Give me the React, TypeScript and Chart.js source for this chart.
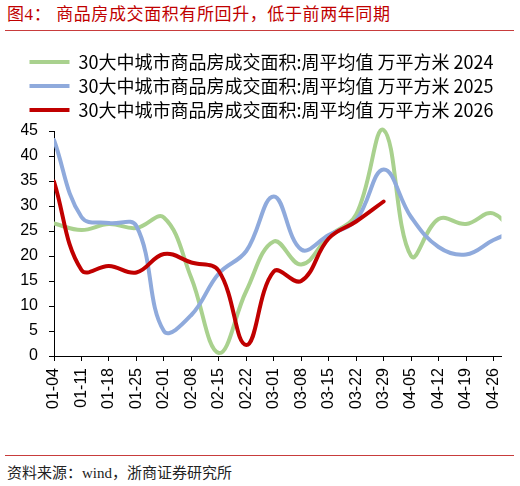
import React, { useEffect, useRef } from "react";
import { Chart, registerables } from "chart.js";

Chart.register(...registerables);

const weekLabels = [
  "01-04", "01-11", "01-18", "01-25", "02-01", "02-08", "02-15", "02-22",
  "03-01", "03-08", "03-15", "03-22", "03-29", "04-05", "04-12", "04-19", "04-26",
];

const yTicks = [0, 5, 10, 15, 20, 25, 30, 35, 40, 45];

const seriesNames = [
  "30大中城市商品房成交面积:周平均值 万平方米 2024",
  "30大中城市商品房成交面积:周平均值 万平方米 2025",
  "30大中城市商品房成交面积:周平均值 万平方米 2026",
];

const values2024 = [26.5, 25.2, 26.4, 25.6, 27.7, 15.6, 0.6, 13.0, 22.9, 18.3, 23.9, 28.3, 45.2, 20.0, 27.4, 26.4, 28.5, 22.0];
const values2025 = [43.2, 27.8, 26.6, 26.0, 5.0, 8.2, 16.5, 21.0, 31.9, 21.3, 24.2, 27.2, 37.3, 27.8, 21.8, 20.3, 23.2, 25.5];
const values2026 = [34.9, 17.2, 18.0, 16.7, 20.4, 18.7, 17.0, 2.2, 16.9, 15.0, 23.5, 26.9, 30.9];

const colors = ["#a9d18e", "#8faadc", "#c00000"];

const toPoints = (arr: number[]) => arr.map((v, i) => ({ x: i, y: v }));

const legendSpacer = {
  id: "legendSpacer",
  beforeLayout(chart: any) {
    const lg = chart.legend;
    if (lg && !lg.__patched) {
      const orig = lg.fit.bind(lg);
      lg.fit = function () {
        orig();
        this.height += 2;
      };
      lg.__patched = true;
    }
  },
};

export default function App() {
  const canvasRef = useRef<HTMLCanvasElement | null>(null);

  useEffect(() => {
    if (!canvasRef.current) return;
    const mk = (idx: number, vals: number[]) => ({
      label: seriesNames[idx],
      data: toPoints(vals),
      borderColor: colors[idx],
      backgroundColor: colors[idx],
      borderWidth: 4,
      pointRadius: 0,
      tension: 0.4,
      borderCapStyle: "round" as const,
      borderJoinStyle: "round" as const,
      clip: { left: 0, right: 0, top: false, bottom: false } as any,
    });
    const chart = new Chart(canvasRef.current, {
      type: "line",
      data: {
        datasets: [mk(2, values2026), mk(1, values2025), mk(0, values2024)],
      },
      plugins: [legendSpacer],
      options: {
        animation: false,
        responsive: false,
        devicePixelRatio: 1,
        layout: { padding: { top: 11, left: 21, right: 18, bottom: 0 } },
        plugins: {
          tooltip: { enabled: false },
          legend: {
            position: "top",
            reverse: true,
            labels: {
              font: { size: 18, family: "'Noto Sans CJK SC', sans-serif" },
              color: "#000",
              boxWidth: 40,
              boxHeight: 4,
              padding: 6,
              generateLabels: (c: any) =>
                (Chart.defaults.plugins.legend.labels as any)
                  .generateLabels(c)
                  .map((l: any) => ({ ...l, lineWidth: 0, fillStyle: l.strokeStyle })),
            },
          },
        },
        scales: {
          x: {
            type: "linear",
            min: 0,
            max: 16.29,
            afterFit: (s: any) => {
              s.height = 92;
            },
            afterBuildTicks: (s: any) => {
              s.ticks = weekLabels.map((_, i) => ({ value: i }));
            },
            ticks: {
              autoSkip: false,
              minRotation: 90,
              maxRotation: 90,
              padding: 7,
              color: "#000",
              font: { size: 16, family: "'Liberation Sans', Arial, sans-serif" },
              callback: (v: any) => weekLabels[v] ?? "",
            },
            grid: {
              drawOnChartArea: false,
              drawTicks: true,
              tickLength: 5,
              color: "#000",
            },
            border: { display: true, color: "#000", width: 1 },
          },
          y: {
            min: 0,
            max: 45,
            afterFit: (s: any) => {
              s.width = 33;
            },
            afterBuildTicks: (s: any) => {
              s.ticks = yTicks.map((v) => ({ value: v }));
            },
            ticks: {
              padding: 11,
              color: "#000",
              font: { size: 16, family: "'Liberation Sans', Arial, sans-serif" },
            },
            grid: {
              drawOnChartArea: false,
              drawTicks: true,
              tickLength: 5,
              color: "#000",
            },
            border: { display: true, color: "#000", width: 1 },
          },
        },
      },
    });
    return () => chart.destroy();
  }, []);

  return (
    <div
      style={{
        position: "absolute",
        left: 0,
        top: 0,
        width: 520,
        height: 486,
        background: "#fff",
        overflow: "hidden",
      }}
    >
      <div
        style={{
          position: "absolute",
          left: 7,
          top: 4,
          fontSize: 17,
          lineHeight: "22px",
          color: "#c00000",
          fontFamily: "'Liberation Serif', 'Noto Sans CJK SC', serif",
          letterSpacing: "0.6px",
          whiteSpace: "nowrap",
        }}
      >
        图4： 商品房成交面积有所回升，低于前两年同期
      </div>
      <div
        style={{
          position: "absolute",
          left: 5,
          top: 30,
          width: 509,
          height: 1,
          background: "#c83c3c",
        }}
      />
      <canvas
        ref={canvasRef}
        width={520}
        height={412}
        style={{ position: "absolute", left: 0, top: 36, width: 520, height: 412 }}
      />
      <div
        style={{
          position: "absolute",
          left: 5,
          top: 455,
          width: 509,
          height: 1,
          background: "#c83c3c",
        }}
      />
      <div
        style={{
          position: "absolute",
          left: 7,
          top: 462,
          fontSize: 15,
          lineHeight: "22px",
          color: "#222",
          fontFamily: "'Liberation Serif', 'Noto Sans CJK SC', serif",
          whiteSpace: "nowrap",
        }}
      >
        资料来源：wind，浙商证券研究所
      </div>
    </div>
  );
}
